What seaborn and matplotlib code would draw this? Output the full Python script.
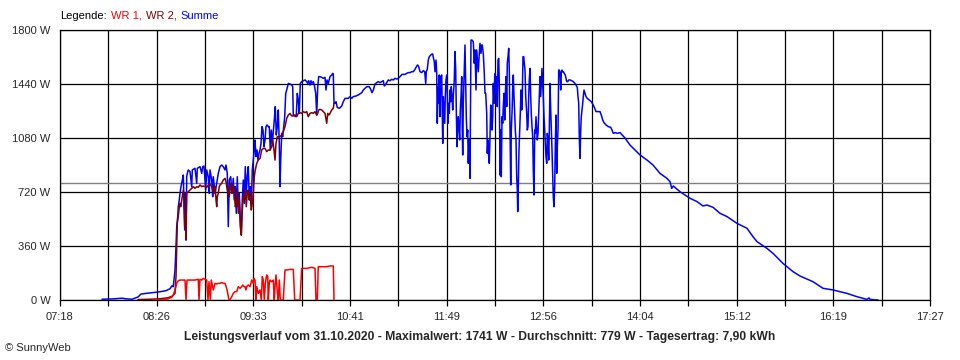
import matplotlib
matplotlib.use("Agg")
import matplotlib.pyplot as plt
import pandas as pd
import seaborn as sns

# ---------------- data (time = minutes after midnight, power in W) ----------------
sum_t = [467.4, 474.4, 481.4, 484.2, 488.4, 492.6, 494.7, 501, 508, 512.2, 515, 516.4,
         517.3, 518.5, 519.2, 519.7, 520.4, 520.8, 521.5, 522, 522.7, 523.2, 523.9, 524.3, 524.8,
         525.3, 525.7, 526.2, 526.7, 527.4, 527.8, 529, 530.2, 530.6, 532.5, 533.7, 534.1, 536,
         537.2, 537.9, 538.8, 539.5, 540, 540.7, 541.8, 542.5, 543, 544.2, 544.9, 545.3, 546,
         546.5, 547.7, 548.8, 550, 551.2, 552.3, 553.5, 554.2, 555.1, 555.8, 556.5, 557.5, 558.4,
         559.3, 560, 560.7, 561.4, 562.1, 562.8, 563.5, 564.2, 564.9, 565.6, 566.3, 567, 567.7,
         568.4, 569.1, 569.8, 570.5, 571.2, 571.9, 572.6, 573.3, 574, 574.5, 575.2, 575.9, 576.6,
         577.3, 578, 578.7, 579.4, 580.1, 580.8, 581.5, 582.2, 582.9, 583.8, 584.5, 585.2, 585.9,
         586.6, 587.3, 588, 588.7, 589.4, 590.1, 590.8, 591.5, 592, 592.5, 593.2, 593.9, 594.6,
         595.3, 596, 596.7, 597.8, 599, 600.2, 600.9, 601.3, 602, 602.7, 603.4, 604.1, 604.8,
         605.5, 606.2, 607.2, 608.3, 609.5, 610.7, 611.4, 612.1, 613, 613.7, 614.4, 615.3, 616,
         617, 617.7, 618.4, 619.1, 620, 621.2, 622.3, 623.5, 624.2, 624.9, 625.8, 627, 628.2,
         628.9, 629.3, 629.8,
         630.5, 631.2, 632.1, 633.5, 635.2, 636.3, 637.5, 639.8, 641, 642.2, 643.3, 645.2, 646.8,
         649.2, 650.3, 651.5, 652.7, 654.5, 655.5, 656.4, 657.3, 658.5, 659.7, 660.8, 662, 663.2,
         664.3, 665, 665.7, 666.7, 667.8, 669, 670.2, 671.3, 672.5, 673.7, 674.8, 676, 677.4,
         679.5, 680.7, 681.8, 683, 684.2, 685.3, 686.5, 687.7, 688.4, 689.1, 690, 691.2, 692.3,
         693.3, 694, 694.4, 695.1, 695.8, 696.5, 697.5, 698.4, 698.9, 699.3, 700, 700.5, 701.2,
         701.7, 702.1, 702.6, 703.1, 703.5, 704, 704.5, 705.2, 705.6, 705.9, 706.3, 706.8, 707.3,
         707.7, 708.2, 708.7, 709.1, 709.6, 710.1, 710.5, 711, 711.5, 711.9, 712.4, 712.9, 713.3,
         714, 714.5, 715, 715.4, 715.9, 716.4, 716.8, 717.3, 717.8, 718.2, 718.7, 719.2, 719.6,
         719.9, 720.3, 721, 721.5, 722, 722.4, 722.9, 723.4, 723.8, 724.3, 724.8,
         725, 725.7, 726.4, 727.3, 728, 728.5, 729.2, 729.7, 730.4, 730.8, 731.5, 732, 732.7,
         733.2, 733.6, 734.3, 735, 735.5, 736, 736.7, 737.1, 737.6, 738.1, 738.5, 739, 739.5,
         739.9, 740.4, 740.9, 741.3, 741.8, 742.3, 742.7, 743.2, 743.7, 744.1, 744.6, 745.1,
         745.5, 746, 746.5, 746.9, 747.4, 747.9, 748.3, 748.8, 749.3, 749.7, 750.2, 750.7, 751.1,
         751.6, 752.1, 752.5, 753, 753.5, 753.9, 754.4, 754.9, 755.3, 755.8, 756.3, 756.7, 757.2,
         757.7, 758.1, 758.4, 758.8, 759.3, 759.8, 760.2, 760.7, 761.2, 761.6, 762.1, 762.6, 763,
         763.5, 764, 764.7, 765.1, 765.6, 766.1, 766.5, 767, 767.5, 767.9, 768.4, 768.9, 769.3,
         769.8, 770.3, 770.7, 771.2, 771.7, 772.1, 772.6, 773.1, 773.5, 774, 774.5, 774.9, 775.4,
         775.9, 776.3, 776.8, 777.3, 777.7, 778.2, 778.7, 779.1, 779.6, 780.1, 780.5, 781, 781.5,
         781.9, 782.4, 782.9, 783.3, 783.8, 784.3, 784.7, 785.2, 785.7, 786.1, 786.6, 787.1,
         787.5, 788, 788.5, 788.9, 789.4, 789.9, 790.3, 791, 791.7, 792.7, 793.4, 794.1, 795,
         796.2, 797.3, 798.5, 799.2, 800.1, 800.6, 801.1, 801.5, 802, 802.5, 802.9, 803.4, 803.9,
         804.3, 804.8, 805.5, 806.2, 807.1, 808.5, 809.9, 811.3, 812.3, 813.2, 814.8, 816, 816.9,
         817.9, 818.8, 820.2, 821.8, 823.5, 824.4, 825.3, 826.7, 828.1, 830,
         833.5, 837, 840.5, 844, 848.9, 853.1, 858, 862.9, 865, 866.2, 867.3, 872, 879, 883.9,
         888.1, 890.9, 895.1, 900, 904.9, 911.9, 918.9, 923.1, 925.9, 932.9, 937.1, 944.1, 951.1,
         956, 965.1, 972.1, 979.1, 988.9, 995.9, 1002.9, 1004.3, 1005, 1010.6]
sum_w = [5, 7, 12, 8, 5, 20, 40, 47, 55, 62, 75, 95,
         89, 200, 356, 489, 556, 622, 667, 711, 756, 778, 811, 833, 644,
         467, 711, 400, 822, 856, 867, 856, 756, 867, 878, 778, 878, 889,
         844, 889, 893, 800, 733, 867, 822, 711, 867, 800, 689, 822, 756,
         711, 778, 844, 889, 900, 889, 867, 900, 844, 489, 800, 822, 711,
         811, 667, 756, 578, 822, 622, 711, 533, 433, 667, 800, 644, 889,
         711, 822, 889, 667, 756, 622, 867, 933, 1000, 1067, 956, 1000, 933,
         978, 1000, 1044, 1156, 1133, 1022, 1067, 1156, 1167, 1156, 1156, 1000, 1133,
         1044, 1122, 1200, 1289, 1100, 1156, 1267, 1044, 756, 933, 1111, 1089, 1156,
         1222, 1378, 1400, 1444, 1440, 1433, 1422, 1233, 1233, 1222, 1233, 1378, 1333,
         1244, 1444, 1456, 1462, 1467, 1456, 1444, 1462, 1433, 1462, 1444, 1456, 1433,
         1378, 1233, 1422, 1489, 1489, 1484, 1478, 1484, 1400, 1467, 1444, 1489, 1500,
         1511, 1507, 1311,
         1311, 1322, 1284, 1278, 1293, 1322, 1344, 1344, 1356, 1344, 1356, 1360, 1367,
         1382, 1400, 1411, 1422, 1422, 1404, 1382, 1400, 1440, 1449, 1456, 1449, 1456,
         1462, 1427, 1433, 1449, 1467, 1462, 1471, 1467, 1478, 1473, 1478, 1489, 1504,
         1504, 1511, 1516, 1516, 1522, 1522, 1538, 1560, 1567, 1556, 1522, 1516, 1529,
         1522, 1444, 1522, 1538, 1600, 1622, 1633, 1640, 1640, 1618, 1589, 1522, 1600,
         1511, 1178, 1422, 1311, 1500, 1222, 1489, 1500, 1244, 1044, 1356, 1267, 1178,
         1356, 1467, 1500, 1378, 1178, 1311, 1244, 1400, 1322, 1422, 1356, 1267, 1356,
         1467, 1656, 1533, 1267, 1022, 1178, 1222, 1133, 1067, 1267, 1356, 1489, 1133,
         967, 1311, 1533, 1700, 1444, 1222, 1089, 1133, 911, 1067, 1000,
         811, 1733, 1733, 1722, 1578, 1667, 1400, 1667, 1578, 1522, 1644, 1711, 1644,
         1700, 1700, 1644, 1511, 1378, 1378, 1244, 978, 1067, 956, 911, 1089, 1300,
         1156, 1133, 1222, 1444, 1311, 1489, 1511, 1378, 1489, 1289, 1600, 1611,
         1444, 833, 1133, 822, 1222, 1178, 1289, 1378, 1200, 1356, 1489, 1289, 1578,
         1622, 1678, 1533, 1133, 767, 1133, 1244, 1400, 1500, 1356, 1244, 1133, 1067,
         822, 733, 589, 756, 1000, 1133, 1244, 1400, 1267, 1356, 1622, 1622, 1578,
         1533, 1356, 1244, 1133, 1156, 1356, 1467, 1544, 1356, 1244, 1156, 1089, 867,
         700, 1133, 1111, 1222, 1133, 1067, 1111, 1244, 1356, 1489, 1356, 1444, 1544,
         1444, 1356, 1222, 1133, 1044, 956, 911, 1111, 1067, 933, 1133, 1444, 1267,
         1156, 1000, 822, 689, 622, 767, 1022, 1233, 844, 1022, 1133, 1533,
         1533, 1522, 1400, 1511, 1533, 1522, 1522, 1511, 1500, 1456, 1456, 1467, 1467,
         1462, 1456, 1444, 1433, 1418, 1356, 1311, 1089, 944, 1133, 1222, 1267, 1311,
         1356, 1400, 1378, 1356, 1344, 1333, 1322, 1300, 1278, 1256, 1256, 1256, 1233,
         1200, 1182, 1167, 1156, 1151, 1133, 1111, 1116, 1111, 1116,
         1080, 1033, 1000, 967, 933, 900, 844, 811, 789, 744, 760, 722, 678, 656,
         627, 633, 618, 578, 556, 511, 478, 422, 389, 344, 311, 244, 189,
         160, 122, 78, 67, 44, 22, 4, 14, 4, 0]

wr1_t = [503.3, 512.7, 513.8, 516.2, 517.3, 518.5, 519.7, 520.8, 522, 525.5, 526.2, 526.9,
         530.2, 532.5, 534.8, 535.3, 536, 537.2, 538.3, 539.5, 540.7, 541.6, 542.3, 543.2,
         543.9, 545.3, 546.5, 547.7, 548.8, 550, 551.2, 552.3, 553.5, 554.7, 555.4, 556.3,
         557, 558.2, 559.3, 560.5, 561.7, 562.8, 564, 565.2, 565.9, 566.8, 567.5, 568.2,
         568.7, 569.8, 571, 572.2, 573.3, 573.8, 574.5, 575.2, 575.7, 576.8, 578, 578.9,
         579.6, 580.3, 581, 581.7, 582.7, 583.4, 583.8, 584.5, 585, 586.2, 587.3, 588,
         588.5, 589.2, 590.1, 590.8, 591.5, 592.2, 594.3, 595.5, 596.7, 599, 601.3, 602.3,
         606, 607.2, 610.7, 614.2, 616.5, 617.2, 618.1, 618.8, 620, 624.7, 627, 629.3, 629.8]
wr1_w = [0, 4, 9, 18, 33, 67, 111, 129, 133, 133, 0, 133,
         133, 133, 138, 0, 138, 133, 144, 138, 133, 0, 122, 0,
         133, 67, 111, 107, 111, 111, 116, 111, 111, 78, 44, 0,
         0, 22, 44, 56, 56, 89, 78, 89, 100, 89, 89, 67,
         89, 100, 89, 133, 111, 144, 133, 0, 89, 44, 67, 0,
         156, 133, 0, 111, 167, 156, 0, 111, 133, 122, 133, 0,
         89, 167, 56, 0, 133, 0, 0, 200, 200, 204, 204, 0,
         0, 211, 211, 218, 211, 0, 0, 222, 222, 222, 227, 227, 0]

wr2_t = [492.6, 501, 508, 513.6, 516.4,
         517.3, 518.5, 519.2, 519.7, 520.1, 520.8, 521.5, 522, 522.5, 523.2, 523.9, 524.3,
         524.8, 525.3, 525.7, 526.2, 526.7, 527.8, 529, 530.2, 531.3, 532.5, 533.7, 534.8,
         536, 537.2, 538.3, 539.5, 540.7, 541.8, 543, 544.2, 544.9, 545.3, 546, 546.7, 547.2,
         547.7, 548.1, 548.8, 549.5, 550, 551.2, 552.3, 553.5, 554.2, 555.1, 555.8, 556.5,
         557.5, 558.4, 559.3, 560, 560.7, 561.4, 562.1, 562.8, 563.5, 564.2, 564.9, 565.6,
         566.3, 567, 567.7, 568.4, 569.1, 569.8, 570.5, 571.2, 571.9, 572.6, 573.3, 574,
         574.7, 575.7, 576.8, 578, 579.2, 580.3, 581.5, 582.7, 583.8, 585, 586.2, 586.9,
         587.8, 588.5, 589.2, 590.1, 590.8, 592, 593.2, 594.3, 595.5, 596.7, 597.8, 599,
         600.2, 601.3, 602.5, 603.7, 604.8, 606, 607.2, 608.3, 609.5, 610.7, 611.8, 613,
         614.2, 615.3, 616.5, 617.7, 618.4, 619.1, 620, 621.2, 622.3, 623.5, 624.7, 625.4,
         626.3, 627, 628.2, 629.3, 629.8]
wr2_w = [3, 5, 8, 15, 25,
         33, 44, 156, 356, 511, 556, 622, 644, 622, 667, 711, 733,
         667, 489, 556, 400, 711, 722, 733, 744, 756, 744, 756, 751,
         767, 756, 760, 756, 751, 767, 773, 756, 733, 744, 711, 756, 667,
         622, 689, 711, 756, 767, 778, 800, 811, 789, 733, 711, 689,
         778, 711, 767, 711, 622, 644, 733, 578, 667, 489, 433, 600,
         689, 667, 733, 622, 711, 733, 667, 711, 600, 644, 711, 822,
         867, 911, 933, 944, 1000, 1011, 1011, 989, 1000, 1000, 1022, 1067,
         1000, 933, 1044, 1089, 1089, 1089, 1100, 1122, 1156, 1211, 1233, 1244,
         1227, 1227, 1233, 1222, 1244, 1249, 1244, 1256, 1249, 1256, 1222, 1244,
         1249, 1244, 1256, 1233, 1244, 1267, 1271, 1267, 1256, 1244, 1178, 1244,
         1233, 1244, 1267, 1278, 1311]

x_start, x_end = 438, 1047          # 07:18 .. 17:27
x_tick_labels = ["07:18", "", "08:26", "", "09:33", "", "10:41", "", "11:49", "",
                 "12:56", "", "14:04", "", "15:12", "", "16:19", "", "17:27"]
y_ticks = [0, 360, 720, 1080, 1440, 1800]
y_tick_labels = ["0 W", "360 W", "720 W", "1080 W", "1440 W", "1800 W"]
average_w = 779
title = ("Leistungsverlauf vom 31.10.2020 - Maximalwert: 1741 W - "
         "Durchschnitt: 779 W - Tagesertrag: 7,90 kWh")

# ---------------- styling ----------------
sns.set_theme(style="white")
plt.rcParams["font.family"] = ["Liberation Sans", "DejaVu Sans"]
plt.rcParams["font.size"] = 8

W, H = 960, 360
fig = plt.figure(figsize=(W / 100, H / 100), dpi=100)
fig.patch.set_facecolor("white")
ax = fig.add_axes([60 / W, 60 / H, 870 / W, 270 / H])
ax.set_facecolor("white")

df = pd.concat([
    pd.DataFrame({"t": sum_t, "w": sum_w, "series": "Summe"}),
    pd.DataFrame({"t": wr2_t, "w": wr2_w, "series": "WR 2"}),
    pd.DataFrame({"t": wr1_t, "w": wr1_w, "series": "WR 1"}),
], ignore_index=True)

palette = {"Summe": "#0000FF", "WR 2": "#800000", "WR 1": "#FF0000"}
sns.lineplot(data=df, x="t", y="w", hue="series", hue_order=["Summe", "WR 2", "WR 1"],
             palette=palette, estimator=None, sort=False, legend=False,
             linewidth=1.1, ax=ax, zorder=3)

ax.axhline(average_w, color="#808080", linewidth=1.0, zorder=2)

n = len(x_tick_labels)
xticks = [x_start + i * (x_end - x_start) / (n - 1) for i in range(n)]
ax.set_xlim(x_start, x_end)
ax.set_ylim(0, 1800)
ax.set_xticks(xticks)
ax.set_xticklabels(x_tick_labels, fontsize=8)
ax.set_yticks(y_ticks)
ax.set_yticklabels(y_tick_labels, fontsize=8)
ax.grid(True, color="black", linewidth=0.9, zorder=1)
ax.set_axisbelow(True)
ax.tick_params(axis="x", direction="out", length=4, width=0.9, color="black",
               pad=5, bottom=True)
ax.tick_params(axis="y", length=0, pad=7)
for s in ax.spines.values():
    s.set_color("black")
    s.set_linewidth(0.9)
ax.set_xlabel("")
ax.set_ylabel("")

# legend line at the top (multi-coloured text)
fig.canvas.draw()
renderer = fig.canvas.get_renderer()
parts = [("Legende:", "black"), ("WR 1,", "#FF0000"), ("WR 2,", "#800000"), ("Summe", "#0000FF")]
xpos = 60
for txt, col in parts:
    t = fig.text(xpos / W, 1 - 16 / H, txt, color=col, fontsize=8, va="center", ha="left")
    bb = t.get_window_extent(renderer)
    xpos = bb.x1 + 4

fig.text(480 / W, 1 - 337 / H, title, fontsize=8.7, fontweight="bold", ha="center", va="center")
fig.text(5 / W, 1 - 348 / H, "© SunnyWeb", fontsize=8, ha="left", va="center")

fig.savefig("out.png", dpi=100)
